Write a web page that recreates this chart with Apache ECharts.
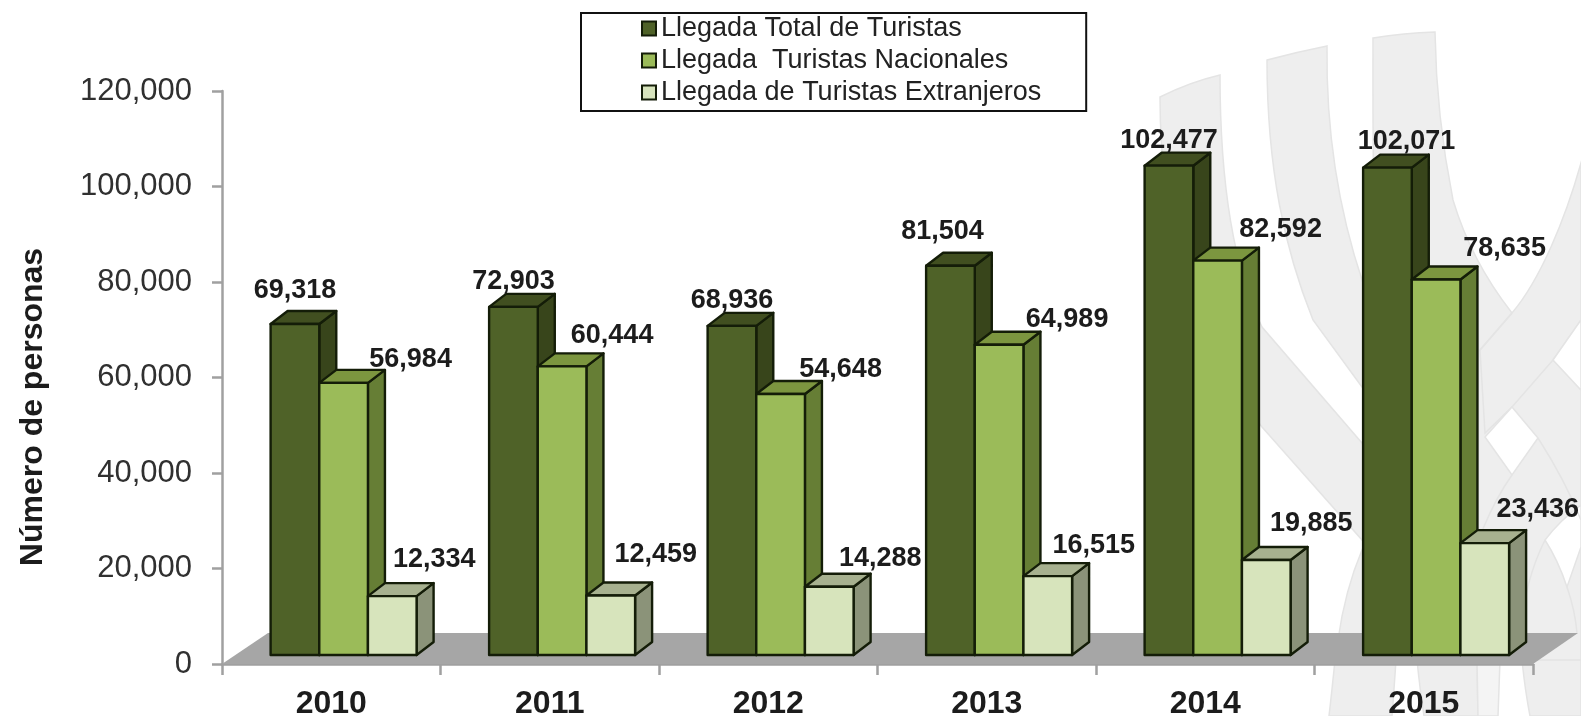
<!DOCTYPE html>
<html><head><meta charset="utf-8">
<style>html,body{margin:0;padding:0;background:#fff}#c{width:1581px;height:716px}</style>
<script src="https://cdn.jsdelivr.net/npm/echarts@6/dist/echarts.min.js"></script>
</head><body><div id="c"></div>
<script>
const years = ['2010','2011','2012','2013','2014','2015'];
const totalTuristas = [69318,72903,68936,81504,102477,102071];
const nacionales = [56984,60444,54648,64989,82592,78635];
const extranjeros = [12334,12459,14288,16515,19885,23436];
const yTicks = [0,20000,40000,60000,80000,100000,120000];
const seriesNames = ['Llegada Total de Turistas','Llegada  Turistas Nacionales','Llegada de Turistas Extranjeros'];
const yTitle = 'Número de personas';

// layout only: label offset from the top-centre of each bar's front face
const labelOffsets = [
 [[0,-33],[67,-23],[42,-36.5]],
 [[0,-25],[50,-31],[45,-41]],
 [[0,-25],[60,-25],[51,-28]],
 [[-8,-34],[68,-25],[46,-31]],
 [[0,-25],[63,-31],[45,-37]],
 [[19,-26],[68.5,-30.5],[53,-34]]
];
const styles = [
 {front:'#4f6228',top:'#414f20',side:'#38451b'},
 {front:'#9bbb59',top:'#7c963f',side:'#667e35'},
 {front:'#d7e4bc',top:'#a7b18f',side:'#8b9379'}
];
const EDGE='#141d08', FONT='"Liberation Sans", Arial, sans-serif';
const BASE_LIFT=9, DX=17, DY=13, BAR_FRAC=0.2227, START_FRAC=0.2225;

function fmt(v){return Number(v).toLocaleString('en-US');}

function barRenderer(s){
  return function(params,api){
    const i=api.value(0), v=api.value(1);
    const band=api.size([1,0])[0];
    const c=api.coord([i,v]), z=api.coord([i,0]);
    const w=band*BAR_FRAC;
    const x0=c[0]-band/2+band*START_FRAC+w*s, x1=x0+w;
    const yt=c[1]-BASE_LIFT, yb=z[1]-BASE_LIFT;
    const st=styles[s];
    const poly=(pts,fill)=>({type:'polygon',shape:{points:pts},style:{fill:fill,stroke:EDGE,lineWidth:2.4,lineJoin:'round'}});
    const off=labelOffsets[i][s];
    return {type:'group',children:[
      poly([[x1,yt],[x1+DX,yt-DY],[x1+DX,yb-DY],[x1,yb]],st.side),
      poly([[x0,yt],[x0+DX,yt-DY],[x1+DX,yt-DY],[x1,yt]],st.top),
      poly([[x0,yt],[x1,yt],[x1,yb],[x0,yb]],st.front),
      {type:'text',z2:100,style:{text:fmt(v),x:(x0+x1)/2+off[0],y:yt+off[1],align:'center',verticalAlign:'middle',
        font:'bold 27px '+FONT,fill:'#1c1c1c'}}
    ]};
  };
}

function mkSeries(s,values){
  return {type:'custom',name:seriesNames[s],coordinateSystem:'cartesian2d',clip:false,z:3,
    itemStyle:{color:styles[s].front,borderColor:EDGE,borderWidth:2},
    encode:{x:0,y:1},
    renderItem:barRenderer(s),
    data:values.map((v,i)=>[i,v])};
}

const floorSeries={type:'custom',silent:true,coordinateSystem:'cartesian2d',clip:false,z:2,
  encode:{x:0,y:1},
  data:[[0,0]],
  renderItem:function(p,api){
    const band=api.size([1,0])[0];
    const a=api.coord([0,0]), b=api.coord([years.length-1,0]);
    const l=a[0]-band/2, r=b[0]+band/2, y=a[1];
    return {type:'polygon',shape:{points:[[l,y],[r,y],[r+45,y-31],[l+46,y-31]]},style:{fill:'#a6a6a6'}};
  }};

// decorative background watermark
const WM='#eeeeee', WL='#f4f4f4', WE='#e4e4e4';
const watermarkGrey=[
  'M1160,97 Q1190,82 1220,75 C1220,180 1232,265 1262,327 L1362,443 L1460,560 L1460,660 L1362,540 L1262,427 C1190,340 1160,220 1160,97 Z',
  'M1267,60 Q1297,52 1327,46 C1326,120 1335,200 1363,283 L1450,400 L1450,500 L1362,387 L1313,320 C1285,250 1267,170 1267,60 Z',
  'M1373,38 Q1404,33 1435,32 C1436,100 1445,160 1453,200 C1468,250 1490,285 1512,313 L1553,360 L1581,390 L1581,662 L1440,662 L1440,400 L1377,300 C1372,200 1373,100 1373,38 Z',
  'M1480,350 L1512,313 C1540,280 1565,220 1581,163 L1581,320 L1553,360 L1512,407 L1485,433 Z',
  'M1362,550 Q1345,590 1338,640 L1362,640 Z',
  'M1335,660 Q1332,690 1329,716 L1392,716 Q1394,690 1396,660 Z',
  'M1417,660 Q1420,690 1424,716 L1478,716 L1477,660 Z',
  'M1522,660 Q1525,690 1530,716 L1581,716 L1581,660 Z'
];
const watermarkLight=['M1477,660 L1500,660 L1498,716 L1478,716 Z'];
const watermarkWhite=[
  'M1553,360 L1581,320 L1581,390 Z',
  'M1512,407 L1538,438 L1512,475 L1485,437 Z',
  'M1545,540 Q1560,520 1581,505 L1581,547 L1567,587 Q1558,560 1545,540 Z'
];
const watermarkLines=[
  'M1480,350 L1512,313',
  'M1512,475 Q1480,520 1460,600',
  'M1538,438 Q1565,480 1581,520',
  'M1545,540 Q1525,580 1520,633',
  'M1567,587 Q1575,610 1577,633'
];
const watermarkSeries={type:'custom',silent:true,coordinateSystem:'cartesian2d',clip:false,z:0,
  encode:{x:0,y:1},data:[[0,0]],
  renderItem:function(){
    const p=(d,fill)=>({type:'path',shape:{pathData:d},style:{fill:fill,stroke:WE,lineWidth:1.5}});
    return {type:'group',children:[].concat(
      watermarkGrey.map(d=>p(d,WM)),
      watermarkLight.map(d=>p(d,WL)),
      watermarkWhite.map(d=>p(d,'#ffffff')),
      watermarkLines.map(d=>({type:'path',shape:{pathData:d},style:{fill:'none',stroke:WE,lineWidth:1.5}}))
    )};
  }};

const chart=echarts.init(document.getElementById('c'),null,{renderer:'canvas'});
chart.setOption({
  animation:false,backgroundColor:'#ffffff',
  graphic:{elements:[{type:'text',x:33.5,y:407,rotation:Math.PI/2,z:10,
    style:{text:yTitle,font:'bold 32px '+FONT,fill:'#1c1c1c',align:'center',verticalAlign:'middle'}}]},
  grid:{left:222,right:48,top:91,bottom:52,containLabel:false,outerBoundsMode:'none'},
  legend:{show:true,data:seriesNames,orient:'vertical',left:581,top:13,
    padding:[2,45,5,60],itemGap:5,itemWidth:14,itemHeight:14,
    borderColor:'#111',borderWidth:2,backgroundColor:'#fff',
    icon:'rect',
    textStyle:{fontFamily:FONT,fontSize:27,color:'#222'}},
  xAxis:{type:'category',data:years,boundaryGap:true,
    axisLine:{lineStyle:{color:'#a0a0a0',width:2.5}},
    axisTick:{show:true,length:11,alignWithLabel:false,lineStyle:{color:'#a0a0a0',width:2.5}},
    axisLabel:{interval:0,margin:24,fontFamily:FONT,fontSize:32,fontWeight:'bold',color:'#1c1c1c'}},
  yAxis:{type:'value',min:0,max:120000,interval:20000,
    splitLine:{show:false},
    axisLine:{show:true,lineStyle:{color:'#a0a0a0',width:2.5}},
    axisTick:{show:true,length:10,lineStyle:{color:'#a0a0a0',width:2.5}},
    axisLabel:{margin:30,fontFamily:FONT,fontSize:31,color:'#303030',padding:[4,0,0,0],
      customValues:yTicks,formatter:v=>fmt(v)}},
  series:[watermarkSeries,floorSeries,mkSeries(0,totalTuristas),mkSeries(1,nacionales),mkSeries(2,extranjeros)]
});
</script></body></html>
